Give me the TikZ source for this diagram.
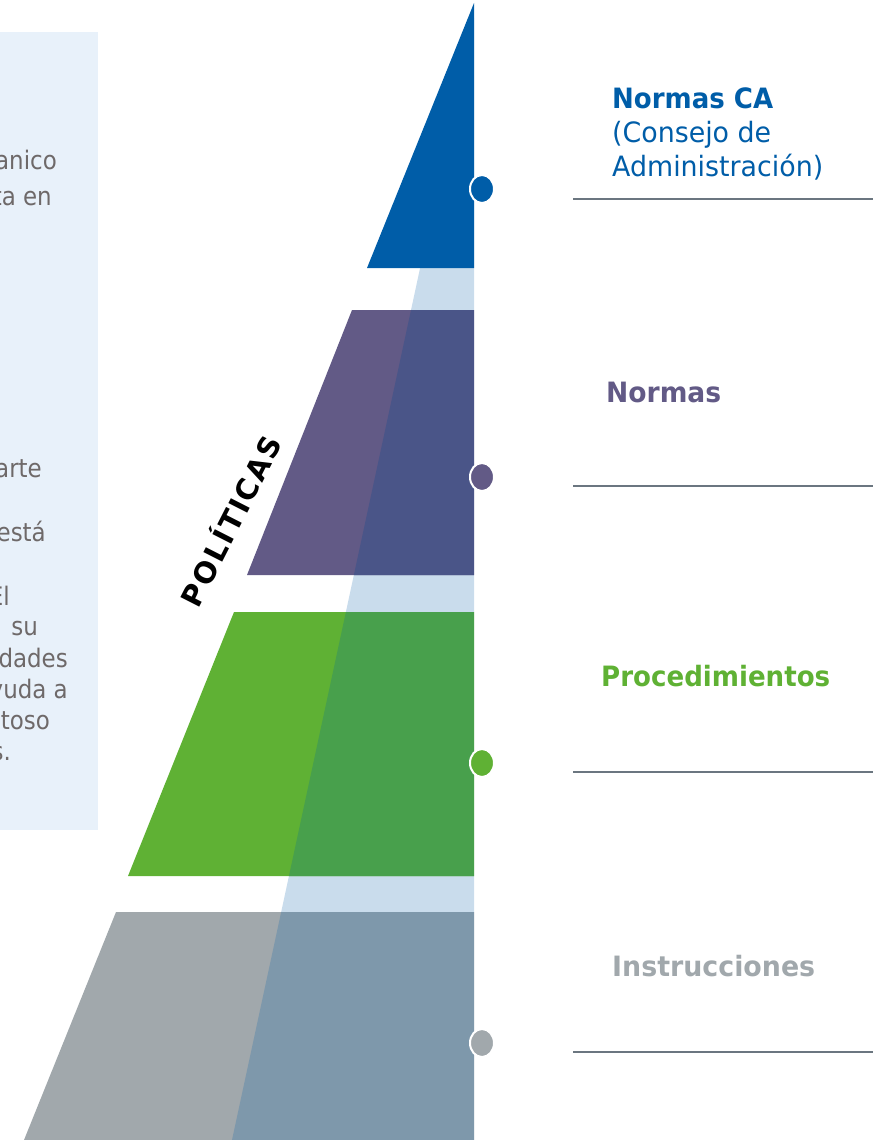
\documentclass[tikz,border=0pt]{standalone}
\usepackage{fontspec}
\usepackage{graphicx}
\setmainfont{DejaVu Sans}
\newfontfamily\lftfont[FakeStretch=0.9]{DejaVu Sans}
\newfontfamily\polfont[LetterSpace=7]{DejaVu Sans}
\usetikzlibrary{shapes.geometric}
\definecolor{cblue}{HTML}{005DA8}
\definecolor{lightov}{HTML}{C9DCEC}
\definecolor{purp}{HTML}{625A86}
\definecolor{purpov}{HTML}{4A5588}
\definecolor{cgreen}{HTML}{5FB134}
\definecolor{greenov}{HTML}{48A04C}
\definecolor{cgray}{HTML}{A1A8AC}
\definecolor{grayov}{HTML}{7E98AB}
\definecolor{rulec}{HTML}{6B7680}
\definecolor{boxbg}{HTML}{E8F1FA}
\definecolor{lefttxt}{HTML}{6E6969}
\tikzset{
  lefttext/.style={inner sep=0pt, text=lefttxt, font=\lftfont\fontsize{25.5}{25.5}\selectfont, anchor=base east},
  label/.style={inner sep=0pt, anchor=base west},
  dot/.style={ellipse, minimum width=24pt, minimum height=28pt, inner sep=0pt, draw=white, line width=2pt},
  rulel/.style={draw=rulec, line width=1.4pt}
}
\begin{document}
\begin{tikzpicture}[x=1pt,y=-1pt]
\useasboundingbox (0,0) rectangle (884,1140);
% left text box
\fill[boxbg] (0,32) rectangle (98,830);
\begin{scope}
\clip (0,32) rectangle (98,830);
\node[lefttext] (l1) at (57,169) {anico};
\node[lefttext] (l2) at (52,205) {ta en};
\node[lefttext] (l3) at (42,477) {arte};
\node[lefttext] (l4) at (46,541) {está};
\node[lefttext] (l5) at (10,605) {El};
\node[lefttext] (l6) at (38,635) {su};
\node[lefttext] (l7) at (68,667) {dades};
\node[lefttext] (l8) at (68,698) {yuda a};
\node[lefttext] (l9) at (50,729) {toso};
\node[lefttext] (l10) at (11,760) {s.};
\end{scope}
% light overlay triangle
\fill[lightov] (474,18) -- (474,1140) -- (232,1140) -- cycle;
% levels
\fill[cblue] (474,3) -- (474,268) -- (367,268) -- cycle;
\fill[purp] (352,310) -- (474,310) -- (474,575) -- (247,575) -- cycle;
\fill[cgreen] (234,612) -- (474,612) -- (474,876) -- (128,876) -- cycle;
\fill[cgray] (116,912) -- (474,912) -- (474,1140) -- (24,1140) -- cycle;
\begin{scope}
\clip (474,18) -- (474,1140) -- (232,1140) -- cycle;
\fill[purpov] (352,310) -- (474,310) -- (474,575) -- (247,575) -- cycle;
\fill[greenov] (234,612) -- (474,612) -- (474,876) -- (128,876) -- cycle;
\fill[grayov] (116,912) -- (474,912) -- (474,1140) -- (24,1140) -- cycle;
\end{scope}
% dots
\node[dot, fill=cblue] (d1) at (482,189) {};
\node[dot, fill=purp] (d2) at (482,477) {};
\node[dot, fill=cgreen] (d3) at (482,763) {};
\node[dot, fill=cgray] (d4) at (482,1043) {};
% POLITICAS
\node[inner sep=0pt, rotate=63, font=\polfont\bfseries\fontsize{29}{29}\selectfont] (pol) at (229,520) {POLÍTICAS};
% right labels
\node[label, text=cblue] (t1) at (612,108) {\resizebox{161pt}{\height}{\fontsize{28}{28}\selectfont\bfseries Normas CA}};
\node[label, text=cblue] (t1b) at (612,142) {\resizebox{159pt}{\height}{\fontsize{28}{28}\selectfont (Consejo de}};
\node[label, text=cblue] (t1c) at (612,176) {\resizebox{211pt}{\height}{\fontsize{28}{28}\selectfont Administración)}};
\node[label, text=purp] (t2) at (606,402) {\resizebox{115pt}{\height}{\fontsize{28}{28}\selectfont\bfseries Normas}};
\node[label, text=cgreen] (t3) at (601,686) {\resizebox{229pt}{\height}{\fontsize{28}{28}\selectfont\bfseries Procedimientos}};
\node[label, text=cgray] (t4) at (612,976) {\resizebox{203pt}{\height}{\fontsize{28}{28}\selectfont\bfseries Instrucciones}};
% rules
\coordinate (r1a) at (573,199); \coordinate (r1b) at (873,199);
\coordinate (r2a) at (573,486); \coordinate (r2b) at (873,486);
\coordinate (r3a) at (573,772); \coordinate (r3b) at (873,772);
\coordinate (r4a) at (573,1052); \coordinate (r4b) at (873,1052);
\draw[rulel] (r1a) -- (r1b);
\draw[rulel] (r2a) -- (r2b);
\draw[rulel] (r3a) -- (r3b);
\draw[rulel] (r4a) -- (r4b);
\end{tikzpicture}
\end{document}
